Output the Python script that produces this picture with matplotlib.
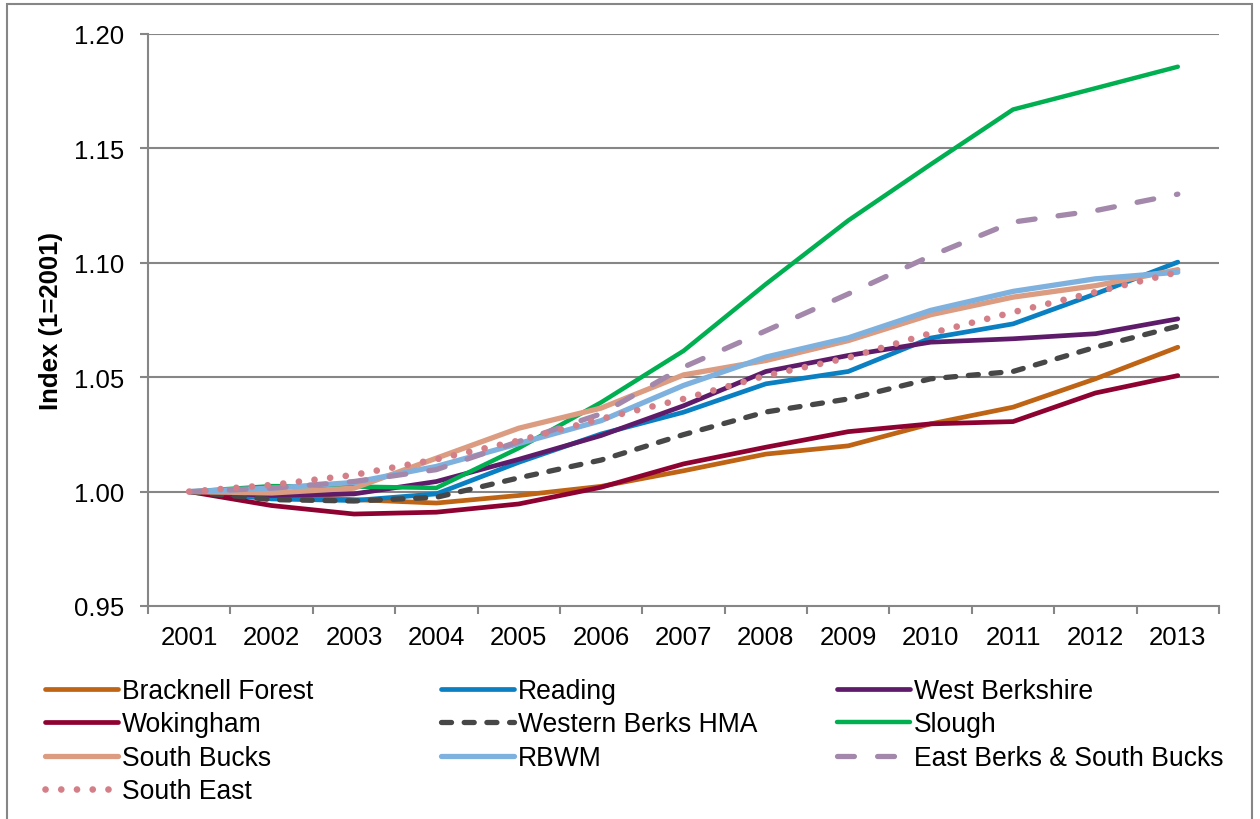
import numpy as np
import matplotlib
matplotlib.use("Agg")
import matplotlib.pyplot as plt
from matplotlib.patches import Rectangle

# ── dati ─────────────────────────────────────────────────────
YEARS = [str(y) for y in range(2001, 2014)]

BRACKNELL = [1.000, 0.9983, 0.9965, 0.9950, 0.9983, 1.0023, 1.0091, 1.0164, 1.0200, 1.0296, 1.0369, 1.0493, 1.0631]
READING   = [1.000, 0.9968, 0.9961, 0.9990, 1.0128, 1.0252, 1.0347, 1.0471, 1.0525, 1.0671, 1.0733, 1.0864, 1.1003]
WEST_BERK = [1.000, 0.9983, 0.9990, 1.0044, 1.0141, 1.0245, 1.0375, 1.0525, 1.0595, 1.0653, 1.0668, 1.0690, 1.0755]
WOKINGHAM = [1.000, 0.9939, 0.9902, 0.9910, 0.9946, 1.0019, 1.0121, 1.0194, 1.0262, 1.0296, 1.0306, 1.0431, 1.0507]
WB_HMA    = [1.000, 0.9965, 0.9959, 0.9975, 1.0060, 1.0138, 1.0249, 1.0348, 1.0405, 1.0493, 1.0525, 1.0631, 1.0723]
SLOUGH    = [1.000, 1.0024, 1.0022, 1.0016, 1.0190, 1.0390, 1.0615, 1.0907, 1.1185, 1.1430, 1.1670, 1.1763, 1.1857]
S_BUCKS   = [1.000, 0.9994, 1.0015, 1.0146, 1.0277, 1.0365, 1.0510, 1.0573, 1.0660, 1.0773, 1.0850, 1.0900, 1.0970]
RBWM      = [1.000, 1.0015, 1.0040, 1.0110, 1.0210, 1.0310, 1.0464, 1.0588, 1.0672, 1.0792, 1.0875, 1.0930, 1.0959]
EAST_BERK = [1.000, 1.0015, 1.0044, 1.0096, 1.0219, 1.0340, 1.0544, 1.0703, 1.0864, 1.1030, 1.1178, 1.1228, 1.1300]
SOUTH_EAST= [1.000, 1.0029, 1.0073, 1.0141, 1.0223, 1.0318, 1.0405, 1.0507, 1.0585, 1.0692, 1.0784, 1.0872, 1.0959]

Y_TICKS = [0.95, 1.00, 1.05, 1.10, 1.15, 1.20]
# ────────────────────────────────────────────────────────────

plt.rcParams['font.family'] = ['Liberation Sans', 'DejaVu Sans']
FS = 18.5
FS_LEG = 19.1
GRID = '#868686'

# (nome, dati, colore, lw, stile)
series = [
    ("Bracknell Forest", BRACKNELL, '#BE6414', 3.4, '-'),
    ("Reading", READING, '#0A80C2', 3.4, '-'),
    ("West Berkshire", WEST_BERK, '#5E1B6A', 3.4, '-'),
    ("Wokingham", WOKINGHAM, '#8E0232', 3.4, '-'),
    ("Western Berks HMA", WB_HMA, '#474747', 3.8, (0, (1.9, 2.4))),
    ("Slough", SLOUGH, '#00AF50', 3.2, '-'),
    ("South Bucks", S_BUCKS, '#DB9C82', 3.8, '-'),
    ("RBWM", RBWM, '#7EB1DE', 3.8, '-'),
    ("East Berks & South Bucks", EAST_BERK, '#A388AB', 3.8, (0, (3.2, 4.4))),
    ("South East", SOUTH_EAST, '#D47F88', 4.8, (0, (0.01, 2.35))),
]

fig = plt.figure(figsize=(12.6, 8.2), dpi=100)
ax = fig.add_axes([148/1260, 1 - 607/820, (1219 - 148)/1260, (607 - 35)/820])

x = np.arange(len(YEARS))
handles = {}
for name, vals, color, lw, ls in series:
    ln, = ax.plot(x, vals, color=color, lw=lw, linestyle=ls,
                  solid_joinstyle='round', solid_capstyle='round',
                  dash_capstyle='round', zorder=3)
    handles[name] = ln

ax.set_xlim(-0.5, len(YEARS) - 0.5)
ax.set_ylim(0.95, 1.20)
ax.set_yticks(Y_TICKS)
ax.set_yticklabels([f"{v:.2f}" for v in Y_TICKS], fontsize=FS)
ax.set_xticks(x)
ax.set_xticklabels(YEARS, fontsize=FS)
ax.set_xticks(np.arange(-0.5, len(YEARS)), minor=True)
ax.tick_params(axis='x', which='major', length=0, pad=14)
ax.tick_params(axis='x', which='minor', length=6, width=1.5, color=GRID, direction='out')
ax.tick_params(axis='y', length=6, width=1.5, color=GRID, direction='out', pad=11)

for yv in Y_TICKS[1:]:
    ax.axhline(yv, color=GRID, lw=1.5, zorder=1)
for s in ['top', 'right']:
    ax.spines[s].set_visible(False)
for s in ['left', 'bottom']:
    ax.spines[s].set_color(GRID)
    ax.spines[s].set_linewidth(1.5)

ax.set_ylabel("Index (1=2001)", fontsize=FS, fontweight='bold', labelpad=8)

# legenda su tre colonne, ordine come Excel (per righe)
columns = [
    ["Bracknell Forest", "Wokingham", "South Bucks", "South East"],
    ["Reading", "Western Berks HMA", "RBWM"],
    ["West Berkshire", "Slough", "East Berks & South Bucks"],
]
col_x = [45/1260, 441/1260, 837/1260]
for names, cx in zip(columns, col_x):
    leg = fig.legend([handles[n] for n in names], names, loc='upper left',
                     bbox_to_anchor=(cx, 1 - 679/820), frameon=False,
                     fontsize=FS_LEG, borderpad=0, borderaxespad=0,
                     handlelength=2.75, handletextpad=0.15, labelspacing=0.28)

# cornice esterna
fig.patches.append(Rectangle((7/1260, -0.02), (1252 - 7)/1260, 1.02 - 5/820,
                             transform=fig.transFigure, fill=False,
                             edgecolor=GRID, lw=1.5))

fig.savefig("out.png", dpi=100)
